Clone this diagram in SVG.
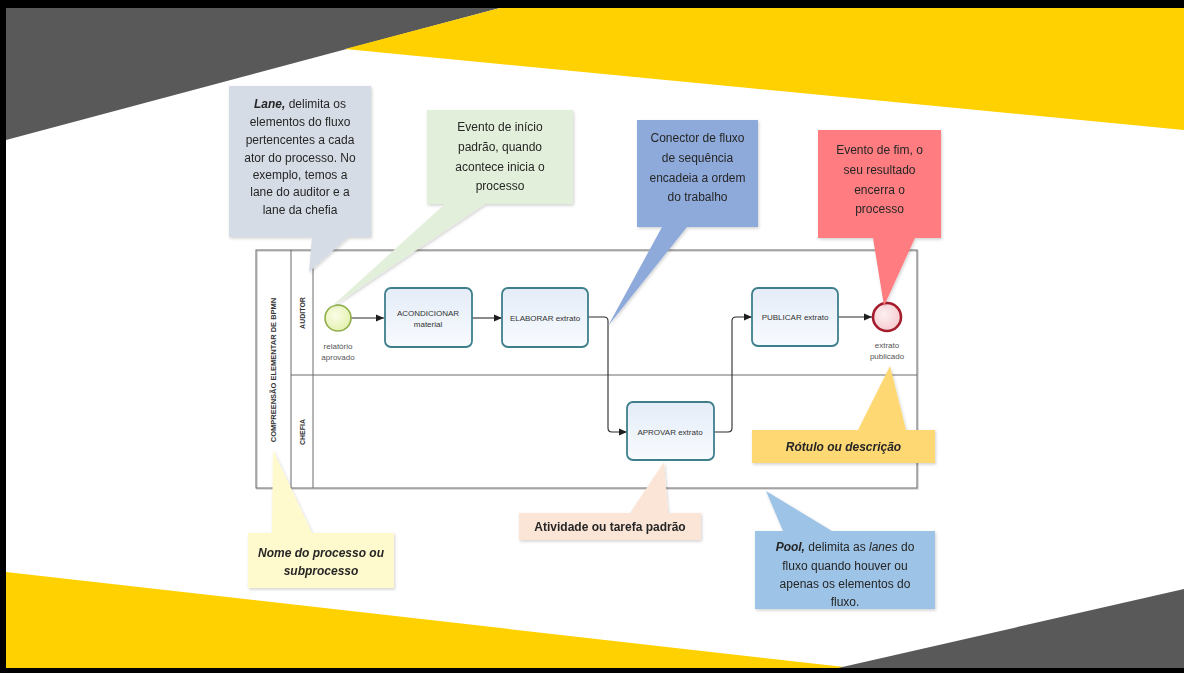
<svg xmlns="http://www.w3.org/2000/svg" width="1184" height="673" viewBox="0 0 1184 673">
<style>
.ct{font-family:"Liberation Sans",Arial,sans-serif;font-size:12px;fill:#262626;text-anchor:middle}
.b{font-weight:bold}
.bi{font-weight:bold;font-style:italic}
.tk{font-family:"Liberation Sans",Arial,sans-serif;font-size:8px;fill:#333;text-anchor:middle}
.lb{font-family:"Liberation Sans",Arial,sans-serif;font-size:8px;fill:#555;text-anchor:middle}
.ln{font-family:"Liberation Sans",Arial,sans-serif;font-weight:bold;fill:#333;text-anchor:middle}
.task{fill:url(#tg);stroke:#3e7f8c;stroke-width:1.8}
.pl{fill:none;stroke:#6b6b6b;stroke-width:1}
.cn{fill:none;stroke:#2b2b2b;stroke-width:1.1;marker-end:url(#ar)}
.co{filter:url(#sh)}
</style>
<defs>
<linearGradient id="tg" x1="0" y1="0" x2="0" y2="1"><stop offset="0" stop-color="#e4ecf7"/><stop offset="1" stop-color="#f8fbff"/></linearGradient>
<radialGradient id="sg" cx="0.4" cy="0.4" r="0.7"><stop offset="0" stop-color="#fbfde8"/><stop offset="1" stop-color="#e0f0a8"/></radialGradient>
<radialGradient id="eg" cx="0.4" cy="0.4" r="0.7"><stop offset="0" stop-color="#fdf0f1"/><stop offset="1" stop-color="#f4c6cb"/></radialGradient>
<marker id="ar" viewBox="0 0 8 8" refX="8" refY="4" markerWidth="8" markerHeight="8" markerUnits="userSpaceOnUse" orient="auto"><path d="M0,0.5 L8,4 L0,7.5 Z" fill="#1e1e1e"/></marker>
<filter id="sh" x="-10%" y="-10%" width="120%" height="120%"><feDropShadow dx="1" dy="1.5" stdDeviation="1.5" flood-color="#000" flood-opacity="0.18"/></filter>
</defs>

<g id="background">
<rect x="0" y="0" width="1184" height="673" fill="#000"/>
<rect x="6" y="8" width="1178" height="660" fill="#fff"/>
<polygon points="6,8 500,8 6,140" fill="#595959"/>
<polygon points="500,8 1184,8 1184,130 345,49" fill="#ffd100"/>
<polygon points="6,572 853,668 6,668" fill="#ffd100"/>
<polygon points="1184,589 1184,668 838,668" fill="#595959"/>
</g>

<g id="pool">
<rect x="257" y="251" width="661" height="238" fill="none" stroke="#bbb" stroke-width="1"/>
<rect x="256" y="250" width="661" height="238" class="pl"/>
<line x1="291" y1="250" x2="291" y2="488" class="pl"/>
<line x1="313" y1="250" x2="313" y2="488" class="pl"/>
<text class="ln" font-size="7.5" transform="translate(276,370) rotate(-90)">COMPREENSÃO ELEMENTAR DE BPMN</text>
</g>
<g id="lane-auditor">
<text class="ln" font-size="7" transform="translate(305,313) rotate(-90)">AUDITOR</text>
</g>
<g id="lane-chefia">
<line x1="291" y1="375" x2="917" y2="375" class="pl"/>
<text class="ln" font-size="7" transform="translate(305,432) rotate(-90)">CHEFIA</text>
</g>

<g id="connectors">
<path class="cn" d="M351,318 H384"/>
<path class="cn" d="M472,318 H502"/>
<path class="cn" d="M588,317 H604 Q608,317 608,321 V428 Q608,432 612,432 H627"/>
<path class="cn" d="M714,432 H728 Q732,432 732,428 V321 Q732,317 736,317 H752"/>
<path class="cn" d="M838,317 H872"/>
</g>

<g id="start-event">
<circle cx="338" cy="318" r="13" fill="url(#sg)" stroke="#8fae4a" stroke-width="1.6"/>
<text class="lb" x="338" y="349">relatório</text>
<text class="lb" x="338" y="360">aprovado</text>
</g>
<g id="task-acondicionar">
<rect x="385" y="288" width="87" height="59" rx="6" class="task"/>
<text class="tk" x="428" y="316">ACONDICIONAR</text>
<text class="tk" x="428" y="327">material</text>
</g>
<g id="task-elaborar">
<rect x="502" y="288" width="86" height="59" rx="6" class="task"/>
<text class="tk" x="545" y="321">ELABORAR extrato</text>
</g>
<g id="task-aprovar">
<rect x="627" y="402" width="87" height="58" rx="6" class="task"/>
<text class="tk" x="670" y="435">APROVAR extrato</text>
</g>
<g id="task-publicar">
<rect x="752" y="288" width="86" height="58" rx="6" class="task"/>
<text class="tk" x="795" y="320">PUBLICAR extrato</text>
</g>
<g id="end-event">
<circle cx="887" cy="317" r="14" fill="url(#eg)" stroke="#a51d2d" stroke-width="2.6"/>
<text class="lb" x="887" y="348">extrato</text>
<text class="lb" x="887" y="359">publicado</text>
</g>

<g id="callout-lane" class="co">
<path d="M229,86 H371 V237 H348 L309,272 L312,237 H229 Z" fill="#d6dce5"/>
<text class="ct" x="300" y="108"><tspan class="bi">Lane,</tspan> delimita os</text>
<text class="ct" x="300" y="126">elementos do fluxo</text>
<text class="ct" x="300" y="144">pertencentes a cada</text>
<text class="ct" x="300" y="162">ator do processo. No</text>
<text class="ct" x="300" y="179">exemplo, temos a</text>
<text class="ct" x="300" y="196">lane do auditor e a</text>
<text class="ct" x="300" y="214">lane da chefia</text>
</g>
<g id="callout-start" class="co">
<path d="M427,110 H573 V204 H485 L330,308 L445,204 H427 Z" fill="#e2efda"/>
<text class="ct" x="500" y="131">Evento de início</text>
<text class="ct" x="500" y="151">padrão, quando</text>
<text class="ct" x="500" y="171">acontece inicia o</text>
<text class="ct" x="500" y="190">processo</text>
</g>
<g id="callout-connector" class="co">
<path d="M637,120 H758 V227 H687 L608,326 L662,227 H637 Z" fill="#8eaadb"/>
<text class="ct" x="697.5" y="142">Conector de fluxo</text>
<text class="ct" x="697.5" y="162">de sequência</text>
<text class="ct" x="697.5" y="182">encadeia a ordem</text>
<text class="ct" x="697.5" y="201">do trabalho</text>
</g>
<g id="callout-end" class="co">
<path d="M818,130 H941 V238 H915 L884,306 L873,238 H818 Z" fill="#ff7c80"/>
<text class="ct" x="879.5" y="154">Evento de fim, o</text>
<text class="ct" x="879.5" y="174">seu resultado</text>
<text class="ct" x="879.5" y="194">encerra o</text>
<text class="ct" x="879.5" y="213">processo</text>
</g>
<g id="callout-name" class="co">
<path d="M248,533 H272 L273,450 L312,533 H394 V588 H248 Z" fill="#fffacd"/>
<text class="ct bi" x="321" y="557">Nome do processo ou</text>
<text class="ct bi" x="321" y="575">subprocesso</text>
</g>
<g id="callout-activity" class="co">
<path d="M519,513 H630 L664,462 L668,513 H701 V540 H519 Z" fill="#fbe5d6"/>
<text class="ct b" x="610" y="531">Atividade ou tarefa padrão</text>
</g>
<g id="callout-label" class="co">
<path d="M752,430 H858 L890,366 L906,430 H935 V463 H752 Z" fill="#fdd873"/>
<text class="ct bi" x="843.5" y="451">Rótulo ou descrição</text>
</g>
<g id="callout-pool" class="co">
<path d="M755,531 H783 L766,491 L832,531 H935 V609 H755 Z" fill="#9dc3e6"/>
<text class="ct" x="845" y="551"><tspan class="bi">Pool,</tspan> delimita as <tspan font-style="italic">lanes</tspan> do</text>
<text class="ct" x="845" y="570">fluxo quando houver ou</text>
<text class="ct" x="845" y="588">apenas os elementos do</text>
<text class="ct" x="845" y="606">fluxo.</text>
</g>
</svg>
